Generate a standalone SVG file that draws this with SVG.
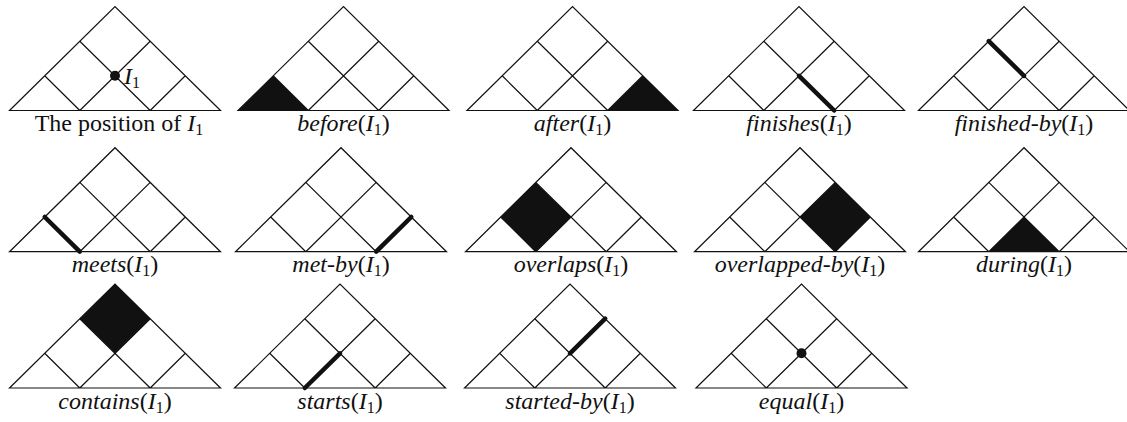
<svg xmlns="http://www.w3.org/2000/svg" width="1127" height="422" viewBox="0 0 1127 422">
<style>
.g{fill:none;stroke:#111;stroke-width:1.2;stroke-linejoin:miter}
.f{fill:#111;stroke:none}
.thick{fill:none;stroke:#111;stroke-width:4.5;stroke-linecap:round}
text{font-family:'Liberation Serif','DejaVu Serif',serif;font-size:24px;fill:#111;text-anchor:middle}
.it{font-style:italic}
.sub{font-size:16px;font-style:normal}
</style>
<defs>
<g id="tri">
<path class="g" d="M-105.5,0 L0,-104 L105.5,0 Z M-35.2,0 L35.2,-69.3 M35.2,0 L70.3,-34.7 M35.2,0 L-35.2,-69.3 M-35.2,0 L-70.3,-34.7"/>
</g>
</defs>
<rect width="1127" height="422" fill="#fff"/>

<g id="position" transform="translate(115,110.5)">
<use href="#tri"/>
<circle class="f" cx="0" cy="-34.7" r="5"/>
<text x="9" y="-27" font-family="Liberation Serif, serif" style="text-anchor:start"><tspan class="it">I</tspan><tspan class="sub" dy="4">1</tspan></text>
<text x="4" y="20.5" font-family="Liberation Serif, serif">The position of <tspan class="it">I</tspan><tspan class="sub" dy="4">1</tspan></text>
</g>

<g id="before" transform="translate(343.5,110.5)">
<path class="f" d="M-105.5,0 L-70.3,-34.7 L-35.2,0 Z"/>
<use href="#tri"/>
<text x="0" y="20.5" font-family="Liberation Serif, serif"><tspan class="it">before</tspan>(<tspan class="it">I</tspan><tspan class="sub" dy="4">1</tspan><tspan dy="-4">)</tspan></text>
</g>

<g id="after" transform="translate(572.5,110.5)">
<path class="f" d="M105.5,0 L70.3,-34.7 L35.2,0 Z"/>
<use href="#tri"/>
<text x="0" y="20.5" font-family="Liberation Serif, serif"><tspan class="it">after</tspan>(<tspan class="it">I</tspan><tspan class="sub" dy="4">1</tspan><tspan dy="-4">)</tspan></text>
</g>

<g id="finishes" transform="translate(799,110.5)">
<use href="#tri"/>
<path class="thick" d="M0,-34.7 L35.2,0"/>
<text x="0" y="20.5" font-family="Liberation Serif, serif"><tspan class="it">finishes</tspan>(<tspan class="it">I</tspan><tspan class="sub" dy="4">1</tspan><tspan dy="-4">)</tspan></text>
</g>

<g id="finished-by" transform="translate(1024,110.5)">
<use href="#tri"/>
<path class="thick" d="M-35.2,-69.3 L0,-34.7"/>
<text x="0" y="20.5" font-family="Liberation Serif, serif"><tspan class="it">finished-by</tspan>(<tspan class="it">I</tspan><tspan class="sub" dy="4">1</tspan><tspan dy="-4">)</tspan></text>
</g>

<g id="meets" transform="translate(115,251.7)">
<use href="#tri"/>
<path class="thick" d="M-70.3,-34.7 L-35.2,0"/>
<text x="0" y="20.5" font-family="Liberation Serif, serif"><tspan class="it">meets</tspan>(<tspan class="it">I</tspan><tspan class="sub" dy="4">1</tspan><tspan dy="-4">)</tspan></text>
</g>

<g id="met-by" transform="translate(341,251.7)">
<use href="#tri"/>
<path class="thick" d="M70.3,-34.7 L35.2,0"/>
<text x="0" y="20.5" font-family="Liberation Serif, serif"><tspan class="it">met-by</tspan>(<tspan class="it">I</tspan><tspan class="sub" dy="4">1</tspan><tspan dy="-4">)</tspan></text>
</g>

<g id="overlaps" transform="translate(571,251.7)">
<path class="f" d="M-70.3,-34.7 L-35.2,-69.3 L0,-34.7 L-35.2,0 Z"/>
<use href="#tri"/>
<text x="0" y="20.5" font-family="Liberation Serif, serif"><tspan class="it">overlaps</tspan>(<tspan class="it">I</tspan><tspan class="sub" dy="4">1</tspan><tspan dy="-4">)</tspan></text>
</g>

<g id="overlapped-by" transform="translate(800,251.7)">
<path class="f" d="M70.3,-34.7 L35.2,-69.3 L0,-34.7 L35.2,0 Z"/>
<use href="#tri"/>
<text x="0" y="20.5" font-family="Liberation Serif, serif"><tspan class="it">overlapped-by</tspan>(<tspan class="it">I</tspan><tspan class="sub" dy="4">1</tspan><tspan dy="-4">)</tspan></text>
</g>

<g id="during" transform="translate(1024,251.7)">
<path class="f" d="M-35.2,0 L0,-34.7 L35.2,0 Z"/>
<use href="#tri"/>
<text x="0" y="20.5" font-family="Liberation Serif, serif"><tspan class="it">during</tspan>(<tspan class="it">I</tspan><tspan class="sub" dy="4">1</tspan><tspan dy="-4">)</tspan></text>
</g>

<g id="contains" transform="translate(115,388)">
<path class="f" d="M0,-104 L35.2,-69.3 L0,-34.7 L-35.2,-69.3 Z"/>
<use href="#tri"/>
<text x="0" y="20.5" font-family="Liberation Serif, serif"><tspan class="it">contains</tspan>(<tspan class="it">I</tspan><tspan class="sub" dy="4">1</tspan><tspan dy="-4">)</tspan></text>
</g>

<g id="starts" transform="translate(340,388)">
<use href="#tri"/>
<path class="thick" d="M-35.2,0 L0,-34.7"/>
<text x="0" y="20.5" font-family="Liberation Serif, serif"><tspan class="it">starts</tspan>(<tspan class="it">I</tspan><tspan class="sub" dy="4">1</tspan><tspan dy="-4">)</tspan></text>
</g>

<g id="started-by" transform="translate(570,388)">
<use href="#tri"/>
<path class="thick" d="M0,-34.7 L35.2,-69.3"/>
<text x="0" y="20.5" font-family="Liberation Serif, serif"><tspan class="it">started-by</tspan>(<tspan class="it">I</tspan><tspan class="sub" dy="4">1</tspan><tspan dy="-4">)</tspan></text>
</g>

<g id="equal" transform="translate(801.5,388)">
<use href="#tri"/>
<circle class="f" cx="0" cy="-34.7" r="5"/>
<text x="0" y="20.5" font-family="Liberation Serif, serif"><tspan class="it">equal</tspan>(<tspan class="it">I</tspan><tspan class="sub" dy="4">1</tspan><tspan dy="-4">)</tspan></text>
</g>

<g id="connectors"></g>
</svg>
